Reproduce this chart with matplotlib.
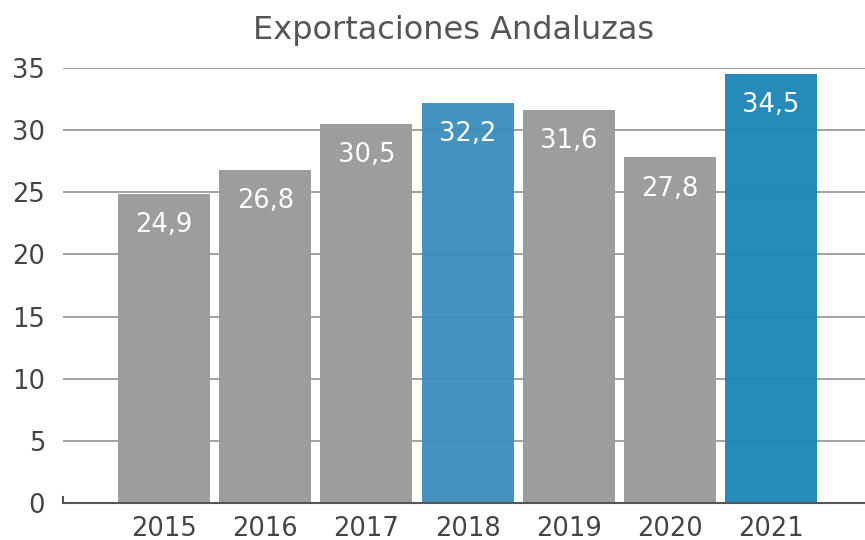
import matplotlib
matplotlib.use("Agg")
import matplotlib.pyplot as plt

years = ["2015", "2016", "2017", "2018", "2019", "2020", "2021"]
values = [24.9, 26.8, 30.5, 32.2, 31.6, 27.8, 34.5]
labels = ["24,9", "26,8", "30,5", "32,2", "31,6", "27,8", "34,5"]
colors = ["#9d9d9d", "#9d9d9d", "#9d9d9d", "#3a8cbc", "#9d9d9d", "#9d9d9d", "#1a85b8"]
alphas = [1, 1, 1, 0.95, 1, 1, 0.95]
yticks = [0, 5, 10, 15, 20, 25, 30, 35]

plt.rcParams['font.family'] = ['DejaVu Sans']

fig = plt.figure(figsize=(8.65, 5.4), dpi=100)
ax = fig.add_axes([63/865, (540-503)/540, (865-63)/865, (503-68)/540])

x = list(range(len(years)))
ax.set_axisbelow(True)
ax.yaxis.grid(True, color="#9a9a9a", linewidth=1.3)
for xi, v, c, a in zip(x, values, colors, alphas):
    ax.bar(xi, v, width=0.91, color=c, alpha=a, zorder=2)

for xi, v, lab in zip(x, values, labels):
    ax.annotate(lab, (xi, v), xytext=(0, -13), textcoords="offset points",
                ha="center", va="top", color="white", fontsize=18.5, zorder=3)

ax.set_xlim(-1.0, 6.93)
ax.set_ylim(0, 35)
ax.set_yticks(yticks)
ax.set_xticks(x)
ax.set_xticklabels(years)
ax.tick_params(axis="both", length=0, labelsize=18.5, colors="#444444")
ax.tick_params(axis="y", pad=13)
ax.tick_params(axis="x", pad=9)

for s in ["top", "right"]:
    ax.spines[s].set_visible(False)
ax.spines["bottom"].set_color("#555555")
ax.spines["bottom"].set_linewidth(1.5)
ax.spines["left"].set_color("#555555")
ax.spines["left"].set_linewidth(1.5)
ax.spines["left"].set_bounds(0, 0.5)

fig.text(454/865, 1 - 31/540, "Exportaciones Andaluzas", ha="center", va="center",
         fontsize=23, color="#555555")

fig.savefig("out.png", dpi=100)
